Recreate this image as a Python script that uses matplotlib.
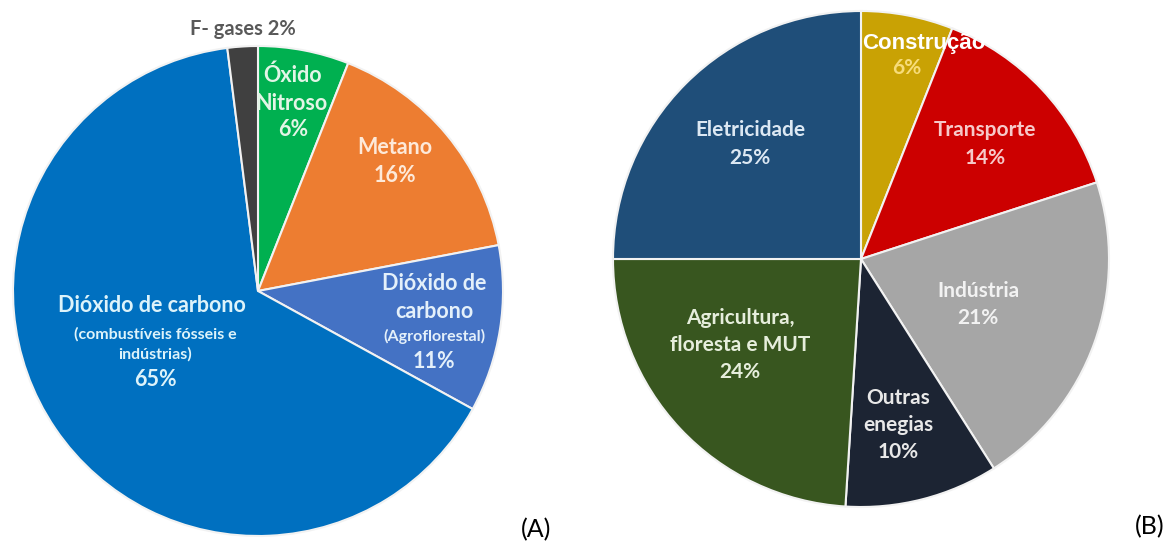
import matplotlib.pyplot as plt

# Dados do gráfico (A): gases de efeito estufa
gases = ['Óxido Nitroso', 'Metano', 'Dióxido de carbono (Agroflorestal)',
         'Dióxido de carbono (combustíveis fósseis e indústrias)', 'F- gases']
gases_pct = [6, 16, 11, 65, 2]
gases_cores = ['#00B050', '#ED7D31', '#4472C4', '#0070C0', '#404040']

# Dados do gráfico (B): setores
setores = ['Construção', 'Transporte', 'Indústria', 'Outras enegias',
           'Agricultura, floresta e MUT', 'Eletricidade']
setores_pct = [6, 14, 21, 10, 24, 25]
setores_cores = ['#C9A204', '#CC0000', '#A6A6A6', '#1C2433', '#38561F', '#1F4E79']

W, H = 1172, 547
fig = plt.figure(figsize=(W / 100, H / 100), dpi=100)
ax = fig.add_axes([0, 0, 1, 1])

cunha = dict(edgecolor='#F2F2F2', linewidth=1.5)
ax.pie(gases_pct, colors=gases_cores, startangle=90, counterclock=False,
       center=(258, H - 291), radius=245, wedgeprops=cunha)
ax.pie(setores_pct, colors=setores_cores, startangle=90, counterclock=False,
       center=(861, H - 259), radius=248, wedgeprops=cunha)

ax.set_xlim(0, W)
ax.set_ylim(0, H)
ax.set_aspect('equal')
ax.axis('off')

fonte = 'Lato'


def rotulo(x, y, s, cor, tam=15.5, peso='bold', familia=fonte):
    ax.text(x, H - y, s, color=cor, fontsize=tam, fontweight=peso,
            family=familia, ha='center', va='center')


# Rótulos (A)
rotulo(243, 29, 'F- gases 2%', '#595959', 14.5)
verde = '#E2F5E6'
rotulo(293, 75, 'Óxido', verde)
rotulo(291, 103, 'Nitroso', verde)
rotulo(293, 130, '6%', verde)
laranja = '#FDE9D9'
rotulo(395, 147, 'Metano', laranja)
rotulo(395, 176, '16%', laranja)
azul = '#E4F0FA'
rotulo(434, 283, 'Dióxido de', azul)
rotulo(434, 311, 'carbono', azul)
rotulo(434, 336, '(Agroflorestal)', azul, 11.5)
rotulo(434, 361, '11%', azul)
ciano = '#DDF3FA'
rotulo(152, 306, 'Dióxido de carbono', ciano)
rotulo(155, 334, '(combustíveis fósseis e', ciano, 11.5)
rotulo(155, 354, 'indústrias)', ciano, 11.5)
rotulo(155, 380, '65%', ciano)

# Rótulos (B)
ax.text(862, H - 43, 'Construção', color='white', fontsize=16,
        fontweight='bold', family='Liberation Sans', ha='left', va='center')
rotulo(907, 68, '6%', '#F7DC7A', 15)
rotulo(750, 130, 'Eletricidade', '#DCE8F3', 15)
rotulo(750, 158, '25%', '#DCE8F3', 15)
rosa = '#F6C9C9'
rotulo(985, 130, 'Transporte', rosa, 15)
rotulo(985, 158, '14%', rosa, 15)
cinza = '#F2F2F2'
rotulo(978, 291, 'Indústria', cinza, 15)
rotulo(978, 318, '21%', cinza, 15)
rotulo(740, 318, 'Agricultura,', '#E6EEDC', 15)
rotulo(740, 345, 'floresta e MUT', '#E6EEDC', 15)
rotulo(740, 372, '24%', '#E6EEDC', 15)
rotulo(898, 398, 'Outras', '#E8E8E8', 15)
rotulo(898, 425, 'enegias', '#E8E8E8', 15)
rotulo(898, 452, '10%', '#E8E8E8', 15)

rotulo(536, 530, '(A)', 'black', 18, 'normal')
rotulo(1150, 527, '(B)', 'black', 18, 'normal')

fig.savefig('out.png', dpi=100)
